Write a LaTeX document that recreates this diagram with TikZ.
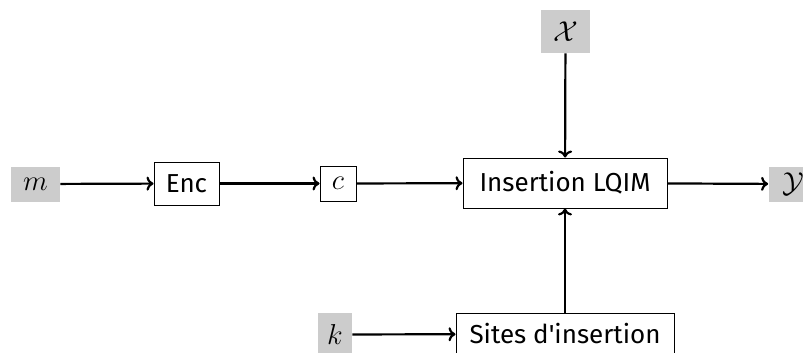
\documentclass[tikz,border=0pt]{standalone}
\usepackage{fontspec}
\setmainfont{Fira Sans}
\usetikzlibrary{arrows.meta}
\begin{document}
\begin{tikzpicture}[x=0.5pt,y=-0.5pt,
  font=\fontsize{13}{15}\selectfont,
  blockbox/.style={draw=black,line width=0.5pt,fill=white,inner sep=0pt,minimum height=21.5pt},
  signal/.style={fill=black!20,inner sep=0pt,minimum width=24.5pt,minimum height=17.5pt,
    font=\fontsize{15.5}{17}\selectfont},
  flow/.style={line width=1.1pt,-{To[length=3.5pt,width=7pt]}}]
  \useasboundingbox (0,0) rectangle (803,353);
  % signals
  \node[signal] (m) at (35.5,184) {$m$};
  \node[signal,minimum height=21.5pt] (X) at (565.5,31.5) {$\mathcal{X}$};
  \node[signal] (Y) at (793,184) {$\mathcal{Y}$};
  \node[signal,minimum width=17pt,minimum height=21.5pt] (k) at (335,334.5) {$k$};
  % processing blocks
  \node[blockbox,minimum width=32.5pt] (enc) at (186.5,183.5) {Enc};
  \node[blockbox,minimum width=18pt,minimum height=17.5pt,
    font=\fontsize{15.5}{17}\selectfont] (c) at (338,183.5) {$c$};
  \node[blockbox,minimum width=102pt,minimum height=25pt] (ins) at (565,183) {Insertion LQIM};
  \node[blockbox,minimum width=109pt,minimum height=21pt] (sites) at (565,334) {Sites d\textquotesingle insertion};
  % connections
  \draw[flow] (m) -- (enc);
  \draw[flow] (enc) -- (c);
  \draw[flow] (c) -- (ins);
  \draw[flow] (ins) -- (Y);
  \draw[flow] (X) -- (ins);
  \draw[flow] (sites) -- (ins);
  \draw[flow] (k) -- (sites);
\end{tikzpicture}
\end{document}
